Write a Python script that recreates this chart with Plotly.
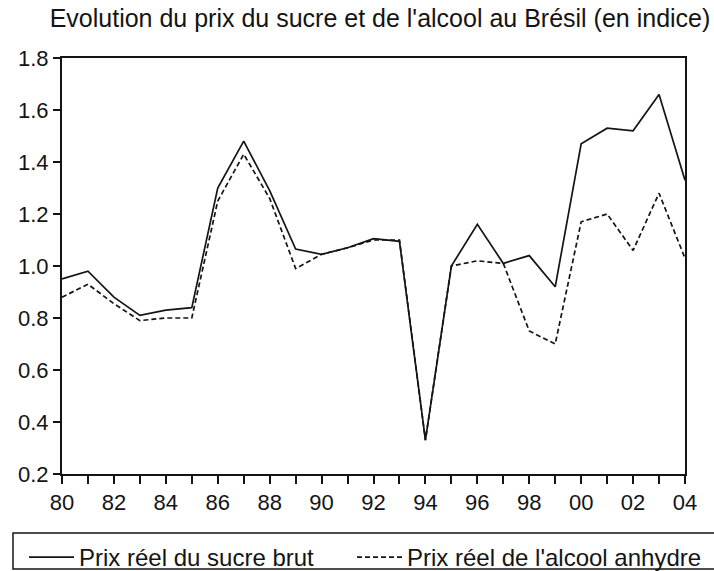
import plotly.graph_objects as go

years = list(range(1980, 2005))
sucre = [0.95, 0.98, 0.88, 0.81, 0.83, 0.84, 1.30, 1.48, 1.29, 1.065, 1.045,
         1.07, 1.105, 1.095, 0.33, 1.00, 1.16, 1.01, 1.04, 0.92, 1.47, 1.53,
         1.52, 1.66, 1.33]
alcool = [0.88, 0.93, 0.855, 0.79, 0.80, 0.80, 1.25, 1.43, 1.26, 0.99, 1.045,
          1.07, 1.10, 1.10, 0.33, 1.00, 1.02, 1.01, 0.75, 0.70, 1.17, 1.20,
          1.06, 1.28, 1.03]
tick_labels = ["80", "", "82", "", "84", "", "86", "", "88", "", "90", "", "92",
               "", "94", "", "96", "", "98", "", "00", "", "02", "", "04"]
y_ticks = [0.2, 0.4, 0.6, 0.8, 1.0, 1.2, 1.4, 1.6, 1.8]

title = "Evolution du prix du sucre et de l'alcool au Brésil (en indice)"
name_sucre = "Prix réel du sucre brut"
name_alcool = "Prix réel de l'alcool anhydre"

FONT = "Liberation Sans, Arial, sans-serif"
INK = "#141414"

W, H = 714, 571
ML, MR, MT, MB = 62, 29, 58, 97
PW, PH = W - ML - MR, H - MT - MB


def px_to_paper_x(px):
    return (px - ML) / PW


def px_to_paper_y(py):
    return (H - MB - py) / PH


fig = go.Figure()
fig.add_trace(go.Scatter(x=years, y=sucre, mode="lines", name=name_sucre,
                         line=dict(color=INK, width=1.7), legend="legend"))
fig.add_trace(go.Scatter(x=years, y=alcool, mode="lines", name=name_alcool,
                         line=dict(color=INK, width=1.7, dash="5px,3px"),
                         legend="legend2"))

# legend frame
fig.add_shape(type="rect", xref="paper", yref="paper",
              x0=px_to_paper_x(13), x1=px_to_paper_x(718),
              y0=px_to_paper_y(569), y1=px_to_paper_y(533),
              line=dict(color=INK, width=1.5), fillcolor="rgba(0,0,0,0)",
              layer="above")

legend_common = dict(orientation="h", xref="paper", yref="paper",
                     xanchor="left", yanchor="top",
                     borderwidth=0, bgcolor="rgba(0,0,0,0)",
                     font=dict(size=24, family=FONT, color=INK),
                     itemwidth=45)

fig.update_layout(
    width=W, height=H,
    margin=dict(l=ML, r=MR, t=MT, b=MB, autoexpand=False),
    paper_bgcolor="white", plot_bgcolor="white",
    font=dict(family=FONT, color=INK, size=22),
    title=dict(text=title, x=380 / W, xanchor="center", xref="container",
               y=1 - 18 / H, yanchor="middle", yref="container",
               font=dict(size=25, family=FONT, color=INK)),
    showlegend=True,
    legend=dict(legend_common, x=px_to_paper_x(24), y=px_to_paper_y(535)),
    legend2=dict(legend_common, x=px_to_paper_x(352), y=px_to_paper_y(535)),
    xaxis=dict(range=[1980, 2004], tickvals=years, ticktext=tick_labels,
               ticks="outside", ticklen=8, tickwidth=1.5, tickcolor=INK,
               showline=True, linecolor=INK, linewidth=2, mirror=True,
               showgrid=False, zeroline=False,
               tickfont=dict(size=22, family=FONT, color=INK)),
    yaxis=dict(range=[0.2, 1.8], tickvals=y_ticks, tickformat=".1f",
               ticks="outside", ticklen=7, tickwidth=1.5, tickcolor=INK,
               showline=True, linecolor=INK, linewidth=2, mirror=True,
               showgrid=False, zeroline=False,
               tickfont=dict(size=22, family=FONT, color=INK)),
)

fig.write_html("out.html",
               config={"displayModeBar": False},
               post_script="document.body.style.margin='0';"
                           "document.body.style.overflow='hidden';")
